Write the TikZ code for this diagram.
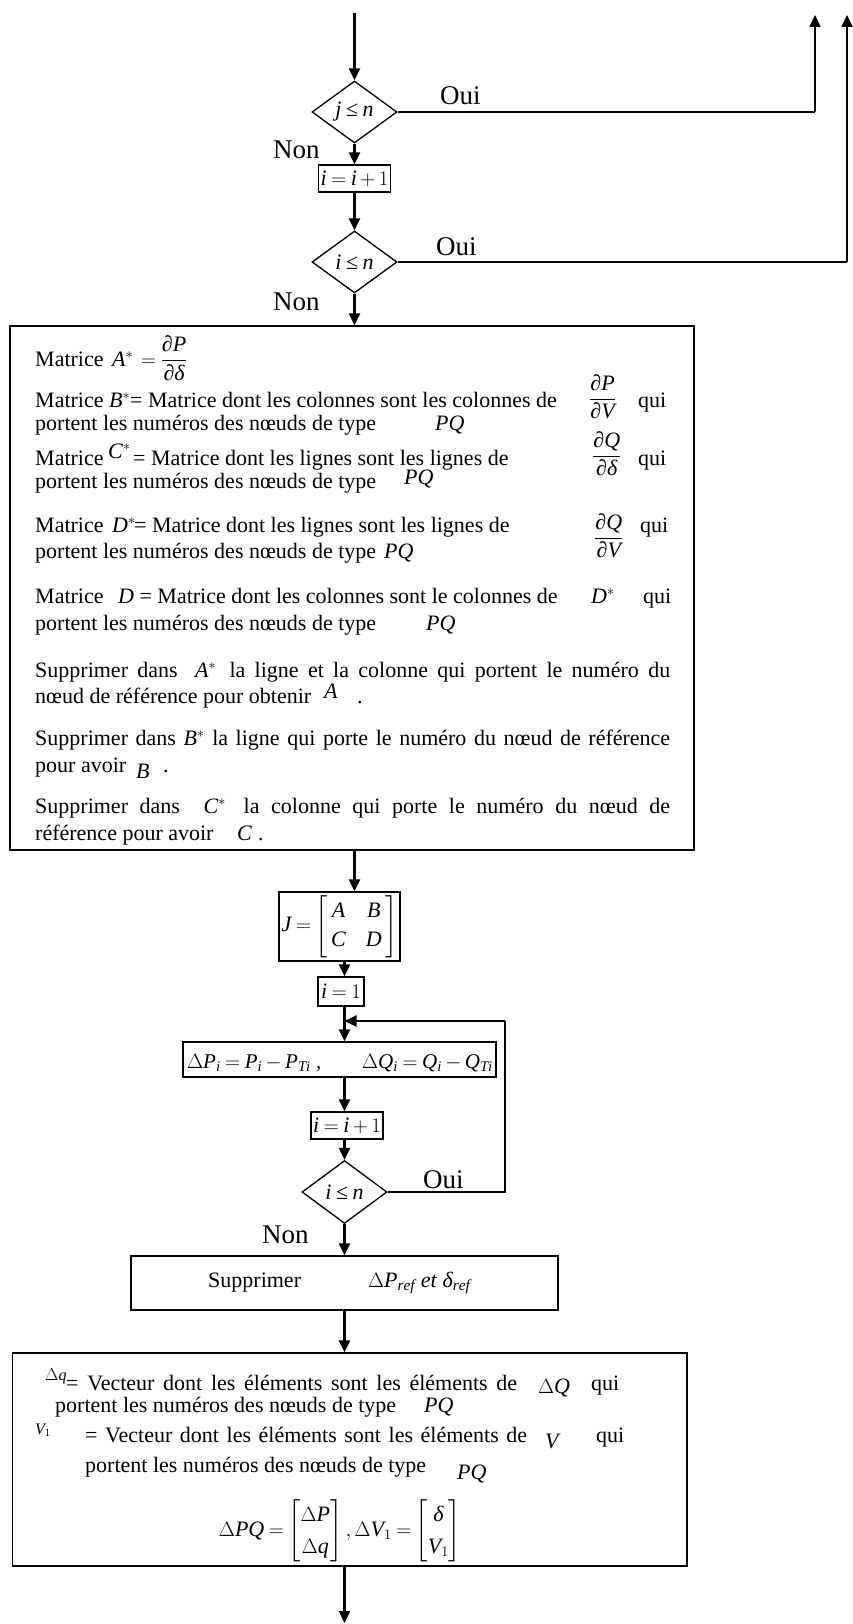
\documentclass[tikz,border=0pt]{standalone}
\usepackage{amsmath}
\usepackage{fontspec}
\setmainfont{Liberation Serif}
\newfontfamily\libser{Liberation Serif}[NFSSFamily=libser]
\DeclareSymbolFont{ltrs}{TU}{libser}{m}{it}
\DeclareSymbolFont{uprm}{TU}{libser}{m}{n}
\makeatletter
\count@=`A
\loop \Umathcode\count@=7 \symltrs \count@ \ifnum\count@<`Z \advance\count@ 1 \repeat
\count@=`a
\loop \Umathcode\count@=7 \symltrs \count@ \ifnum\count@<`z \advance\count@ 1 \repeat
\makeatother
\Umathchardef\partial="0 \symltrs "2202
\Umathchardef\delta="0 \symltrs "03B4
\Umathchardef\Delta="0 \symuprm "0394
\Umathchardef\le="3 \symuprm "2264
\thickmuskip=4mu plus 2mu
\medmuskip=3mu plus 1mu
\usetikzlibrary{arrows.meta,shapes.geometric}
\tikzset{
  box/.style={draw, line width=1.3pt, inner sep=0pt, font=\fontsize{22}{25}\selectfont},
  arr/.style={line width=2.3pt, -{Triangle[length=12pt,width=11pt]}},
  ln/.style={line width=1.4pt},
  lbl/.style={font=\fontsize{27}{30}\selectfont, inner sep=0pt, anchor=base west},
  txt/.style={font=\fontsize{22}{25}\selectfont, inner sep=0pt, anchor=base west},
  sml/.style={font=\fontsize{16}{19}\selectfont, inner sep=0pt, anchor=base west},
  dptxt/.style={font=\fontsize{21}{24}\selectfont, inner sep=0pt, anchor=base west},
  dia/.style={draw, line width=1.3pt, diamond, aspect=1.37, minimum width=85pt, minimum height=62pt, inner sep=0pt, font=\fontsize{22}{25}\selectfont},
}
\begin{document}
\begin{tikzpicture}[x=1pt,y=-1pt]
\useasboundingbox (0,0) rectangle (853,1624);
% ---------- upper part ----------
\coordinate (top) at (354.5,13);
\node[dia] (d1) at (354.5,112) {$j\le n$};
\node[box, minimum width=72pt, minimum height=27pt] (b1) at (354.5,178.5) {$i=i+1$};
\node[dia] (d2) at (354.5,262) {$i\le n$};
\coordinate (c1) at (815,112); \coordinate (e1) at (815,15);
\coordinate (c2) at (847,262); \coordinate (e2) at (847,15);
\node[lbl] (oui1) at (440,105) {Oui};
\node[lbl] (non1) at (273,159) {Non};
\node[lbl] (oui2) at (436,255) {Oui};
\node[lbl] (non2) at (273,310) {Non};
\draw[arr] (top) -- (d1.north);
\draw[arr] (d1.south) -- (b1.north);
\draw[arr] (b1.south) -- (d2.north);
\draw[ln] (d1.east) -- (c1);
\draw[arr] (c1) -- (e1);
\draw[ln] (d2.east) -- (c2);
\draw[arr] (c2) -- (e2);
% ---------- big box ----------
\node[box, minimum width=684pt, minimum height=524pt] (big) at (352,588) {};
\draw[arr] (d2.south) -- (d2.south |- big.north);
\node[txt] (l1a) at (35,366) {Matrice};
\node[txt] (l1b) at (112,366) {$A^{*}$};
\node[txt] (l1c) at (141,366) {$=\dfrac{\partial P}{\partial\delta}$};
\node[txt] (l2a) at (35,407) {Matrice $B^{*}$= Matrice dont les colonnes sont les colonnes de};
\node[txt] (l2b) at (589,404.5) {$\dfrac{\partial P}{\partial V}$};
\node[txt] (l2c) at (638,407) {qui};
\node[txt] (l3a) at (35,430) {portent les numéros des nœuds de type};
\node[txt] (l3b) at (435,430) {$PQ$};
\node[txt] (l4a) at (35,465) {Matrice};
\node[txt] (l4b) at (108,458) {$C^{*}$};
\node[txt] (l4c) at (133,465) {= Matrice dont les lignes sont les lignes de};
\node[txt] (l4d) at (592,461.5) {$\dfrac{\partial Q}{\partial\delta}$};
\node[txt] (l4e) at (638,465) {qui};
\node[txt] (l5a) at (35,488) {portent les numéros des nœuds de type};
\node[txt] (l5b) at (404,484) {$PQ$};
\node[txt] (l6a) at (35,532) {Matrice};
\node[txt] (l6b) at (112,532) {$D^{*}$};
\node[txt] (l6c) at (134,532) {= Matrice dont les lignes sont les lignes de};
\node[txt] (l6d) at (594,543.5) {$\dfrac{\partial Q}{\partial V}$};
\node[txt] (l6e) at (640,532) {qui};
\node[txt] (l7a) at (35,558) {portent les numéros des nœuds de type};
\node[txt] (l7b) at (384,558) {$PQ$};
\node[txt] (l8a) at (35,603) {Matrice};
\node[txt] (l8b) at (118,603) {$D$ = Matrice dont les colonnes sont le colonnes de};
\node[txt] (l8c) at (591,603) {$D^{*}$};
\node[txt] (l8d) at (643,603) {qui};
\node[txt] (l9a) at (35,630) {portent les numéros des nœuds de type};
\node[txt] (l9b) at (426,630) {$PQ$};
\node[txt] (l10) at (35,677) {\makebox[635pt][s]{Supprimer dans\hspace{8pt} $A^{*}$\hspace{4pt} la ligne et la colonne qui portent le numéro du}};
\node[txt] (l11a) at (35,703) {nœud de référence pour obtenir};
\node[txt] (l11b) at (324,698) {$A$};
\node[txt] (l11c) at (357,703) {.};
\node[txt] (l12) at (35,745) {\makebox[635pt][s]{Supprimer dans $B^{*}$ la ligne qui porte le numéro du nœud de référence}};
\node[txt] (l13a) at (35,772) {pour avoir};
\node[txt] (l13b) at (136,778) {$B$};
\node[txt] (l13c) at (163,772) {.};
\node[txt] (l14) at (35,813) {\makebox[635pt][s]{Supprimer dans\hspace{12pt} $C^{*}$\hspace{6pt} la colonne qui porte le numéro du nœud de}};
\node[txt] (l15a) at (35,840) {référence pour avoir};
\node[txt] (l15b) at (237,840) {$C$};
\node[txt] (l15c) at (258,840) {.};
% ---------- lower part ----------
\node[box, minimum width=121pt, minimum height=69pt] (J) at (339.5,926.5) {\renewcommand{\arraystretch}{1.15}$J=\left[\begin{array}{@{\,}c@{\hspace{20pt}}c@{\,}}A & B\\ C & D\end{array}\right]$};
\node[box, minimum width=46pt, minimum height=29pt] (i1) at (341,991.5) {$i=1$};
\node[box, minimum width=313pt, minimum height=35pt] (dp) at (339.5,1059.5) {};
\node[dptxt] (dp1) at (187,1068) {$\Delta P_{i}=P_{i}-P_{Ti}$ ,};
\node[dptxt] (dp2) at (362,1068) {$\Delta Q_{i}=Q_{i}-Q_{Ti}$};
\node[box, minimum width=72pt, minimum height=27pt] (b2) at (347,1125.5) {$i=i+1$};
\node[dia, minimum height=63pt] (d3) at (344.5,1192) {$i\le n$};
\node[lbl] (oui3) at (423,1188) {Oui};
\node[lbl] (non3) at (262,1243) {Non};
\coordinate (L1) at (505,1192);
\coordinate (L2) at (505,1021);
\node[box, minimum width=427pt, minimum height=54pt] (sup) at (344.5,1283) {};
\node[txt] (s1) at (208,1287) {Supprimer};
\node[txt] (s2) at (368,1287) {$\Delta P_{ref}$ \textit{et} $\delta_{ref}$};
\node[box, minimum width=674.5pt, minimum height=213pt] (bot) at (349.75,1459.5) {};
\node[sml] (m1a) at (45,1380) {$\Delta q$};
\node[txt] (m1b) at (66,1390) {\makebox[451pt][s]{= Vecteur dont les éléments sont les éléments de}};
\node[txt] (m1c) at (538,1393) {$\Delta Q$};
\node[txt] (m1d) at (591,1390) {qui};
\node[txt] (m2a) at (55,1412) {portent les numéros des nœuds de type};
\node[txt] (m2b) at (424,1412) {$PQ$};
\node[sml] (m3a) at (35,1434) {$V_{1}$};
\node[txt] (m3b) at (85,1442) {\makebox[442pt][s]{= Vecteur dont les éléments sont les éléments de}};
\node[txt] (m3c) at (545,1448) {$V$};
\node[txt] (m3d) at (596,1442) {qui};
\node[txt] (m4a) at (85,1472) {portent les numéros des nœuds de type};
\node[txt] (m4b) at (457,1479) {$PQ$};
\node[inner sep=0pt, font=\fontsize{22}{25}\selectfont] (m5) at (340,1531) {\renewcommand{\arraystretch}{1.3}$\Delta PQ=\begin{bmatrix}\Delta P\\ \Delta q\end{bmatrix},\Delta V_{1}=\begin{bmatrix}\delta\\ V_{1}\end{bmatrix}$};
\coordinate (end) at (344.5,1623);
% connectors lower part
\draw[arr] (d2.south |- big.south) -- (d2.south |- J.north);
\draw[arr] (J.south -| d3) -- (i1.north -| d3);
\draw[arr] (i1.south -| d3) -- (dp.north -| d3);
\draw[arr] (dp.south -| d3) -- (b2.north -| d3);
\draw[arr] (b2.south -| d3) -- (d3.north);
\draw[ln] (d3.east) -- (L1) -- (L2);
\draw[arr] (L2) -- (L2 -| d3);
\draw[arr] (d3.south) -- (sup.north -| d3);
\draw[arr] (sup.south -| d3) -- (bot.north -| d3);
\draw[arr] (bot.south -| d3) -- (end);
\end{tikzpicture}
\end{document}
